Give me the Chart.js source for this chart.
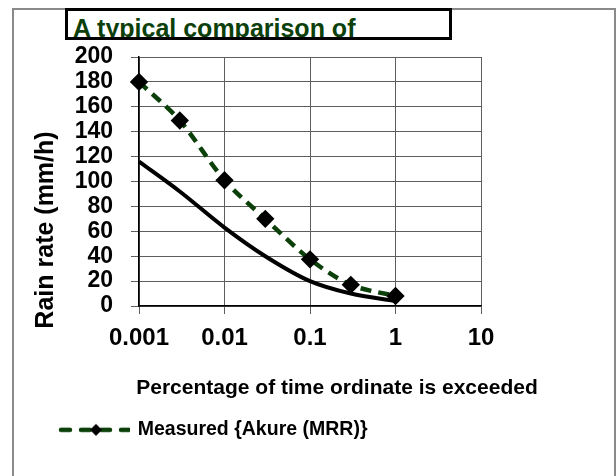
<!DOCTYPE html>
<html>
<head>
<meta charset="utf-8">
<script src="https://cdn.jsdelivr.net/npm/chart.js@4.4.1/dist/chart.umd.min.js"></script>
<style>
body { margin: 0; background: #fff; }
#frame { position: absolute; left: 12px; top: 8px; width: 604px; height: 480px; box-sizing: border-box; border: 2px solid #8a8a8a; }
#wrap { position: absolute; left: 0; top: 0; width: 616px; height: 476px; }
#title { position: absolute; left: 65px; top: 8px; width: 387px; height: 32px; box-sizing: border-box; border: 3px solid #000; overflow: hidden; background: #fff; }
#title span { position: absolute; left: 5px; top: 5px; font: bold 25px/25px 'Liberation Sans', Arial, sans-serif; color: #0b400b; white-space: nowrap; }
</style>
</head>
<body>
<div id="frame"></div>
<div id="wrap"><canvas id="rainChart"></canvas></div>
<div id="title"><span id="titleText"></span></div>
<script>
// values
const xValues = [0.001, 0.003, 0.01, 0.03, 0.1, 0.3, 1];
const measured = [180, 149, 101, 70, 37.5, 17, 8];
const model = [116, 92, 63, 40, 20, 10, 4];
const xTicks = [0.001, 0.01, 0.1, 1, 10];
const xTickLabels = ['0.001', '0.01', '0.1', '1', '10'];
const seriesNames = ['Measured {Akure (MRR)}', 'Model'];
const chartTitle = 'A typical comparison of';
const xTitle = 'Percentage of time ordinate is exceeded';
const yTitle = 'Rain rate (mm/h)';

const green = '#0b400b';
const gridGrey = '#5e5e5e';
const fontFamily = "'Liberation Sans', Arial, sans-serif";

document.getElementById('titleText').textContent = chartTitle;

// legend sample: dashed line with a diamond
const legendMark = document.createElement('canvas');
legendMark.width = 72;
legendMark.height = 14;
const g = legendMark.getContext('2d');
g.strokeStyle = green;
g.lineWidth = 4.5;
g.lineCap = 'round';
g.setLineDash([9, 11]);
g.beginPath();
g.moveTo(3, 7);
g.lineTo(71, 7);
g.stroke();
g.setLineDash([]);
g.beginPath();
g.moveTo(38, 1);
g.lineTo(44, 7);
g.lineTo(38, 13);
g.lineTo(32, 7);
g.closePath();
g.fillStyle = '#000';
g.fill();

const axisTitles = {
    id: 'axisTitles',
    afterDraw(chart) {
        const ctx = chart.ctx;
        ctx.save();
        ctx.fillStyle = '#000';
        ctx.textAlign = 'center';
        ctx.textBaseline = 'alphabetic';
        ctx.font = 'bold 21px ' + fontFamily;
        ctx.fillText(xTitle, 337, 393.5);
        ctx.translate(53, 230);
        ctx.rotate(-Math.PI / 2);
        ctx.font = 'bold 25px ' + fontFamily;
        ctx.fillText(yTitle, 0, 0);
        ctx.restore();
    }
};

Chart.defaults.font.family = fontFamily;
Chart.defaults.font.weight = 'bold';
Chart.defaults.color = '#000';

new Chart('rainChart', {
    type: 'line',
    data: {
        datasets: [{
            label: seriesNames[0],
            data: xValues.map((x, i) => ({x: x, y: measured[i]})),
            borderColor: green,
            borderWidth: 4.5,
            borderDash: [11, 7],
            tension: 0.3,
            pointStyle: 'rectRot',
            pointRadius: 6,
            pointBackgroundColor: '#000',
            pointBorderColor: '#000',
            clip: false
        }, {
            label: seriesNames[1],
            data: xValues.map((x, i) => ({x: x, y: model[i]})),
            borderColor: '#000',
            borderWidth: 4,
            cubicInterpolationMode: 'monotone',
            pointRadius: 0
        }]
    },
    options: {
        responsive: true,
        maintainAspectRatio: false,
        animation: false,
        layout: { padding: { left: 50, right: 135, top: 57, bottom: 26.4 } },
        scales: {
            x: {
                type: 'logarithmic',
                min: 0.001,
                max: 10,
                afterBuildTicks: scale => { scale.ticks = xTicks.map(v => ({value: v})); },
                afterFit: scale => { scale.height = 104.1; },
                ticks: {
                    callback: (v) => xTickLabels[xTicks.indexOf(v)],
                    font: { size: 24, weight: 'bold' },
                    color: '#000',
                    padding: 10,
                    maxRotation: 0,
                    autoSkip: false
                },
                grid: { color: gridGrey, tickColor: gridGrey, tickLength: 8 },
                border: { color: '#000', width: 1.5 }
            },
            y: {
                min: 0,
                max: 200,
                afterFit: scale => { scale.width = 89; },
                ticks: {
                    stepSize: 20,
                    autoSkip: false,
                    font: { size: 23, weight: 'bold' },
                    color: '#000',
                    padding: 18
                },
                grid: { color: gridGrey, tickColor: gridGrey, tickLength: 8 },
                border: { color: '#000', width: 1.5 }
            }
        },
        plugins: {
            legend: {
                position: 'bottom',
                align: 'start',
                labels: {
                    filter: item => item.datasetIndex === 0,
                    usePointStyle: true,
                    pointStyle: legendMark,
                    pointStyleWidth: 68,
                    padding: 10,
                    color: '#000',
                    font: { size: 19.5, weight: 'bold' }
                }
            },
            tooltip: { enabled: false }
        }
    },
    plugins: [axisTitles]
});
</script>
</body>
</html>
